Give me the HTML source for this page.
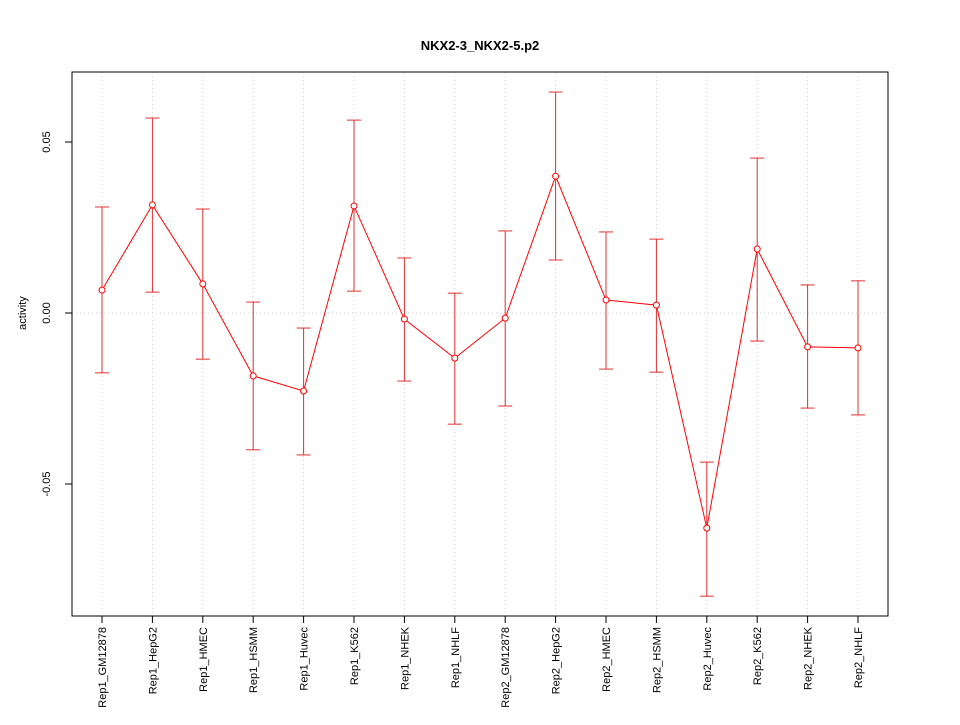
<!DOCTYPE html>
<html><head><meta charset="utf-8"><style>
body{margin:0;background:#fff;}
svg{font-family:"Liberation Sans",sans-serif;}
</style></head><body>
<svg id="c" width="960" height="720">
<rect width="960" height="720" fill="#fff"/>
<text x="480" y="50" text-anchor="middle" font-size="13" font-weight="bold">NKX2-3_NKX2-5.p2</text>
<text transform="translate(26,313) rotate(-90)" text-anchor="middle" font-size="11">activity</text>
<g id="grid"></g><g id="axes"></g><g id="marks"></g>
<rect x="72" y="72" width="816" height="544" fill="none" stroke="#000"/>
</svg>
<script>
const categories=["Rep1_GM12878","Rep1_HepG2","Rep1_HMEC","Rep1_HSMM","Rep1_Huvec","Rep1_K562","Rep1_NHEK","Rep1_NHLF","Rep2_GM12878","Rep2_HepG2","Rep2_HMEC","Rep2_HSMM","Rep2_Huvec","Rep2_K562","Rep2_NHEK","Rep2_NHLF"];
const values=[0.0067,0.0316,0.0085,-0.0184,-0.0228,0.0313,-0.0018,-0.0132,-0.0015,0.040,0.0038,0.0023,-0.0629,0.0187,-0.0099,-0.0102];
const upper=[0.031,0.057,0.0304,0.0032,-0.0044,0.0564,0.0161,0.0058,0.024,0.0646,0.0237,0.0216,-0.0436,0.0453,0.0082,0.0094];
const lower=[-0.0175,0.0061,-0.0135,-0.040,-0.0415,0.0064,-0.0199,-0.0325,-0.0272,0.0155,-0.0164,-0.0173,-0.0828,-0.0082,-0.0278,-0.0298];
const yTicks=[-0.05,0,0.05];
const yTickLabels=["-0.05","0.00","0.05"];
const NS="http://www.w3.org/2000/svg";
const xS=i=>102+i*(756/15);
const yS=v=>313-v*3420;
function mk(p,t,a){const e=document.createElementNS(NS,t);for(const k in a)e.setAttribute(k,a[k]);document.getElementById(p).appendChild(e);return e;}
categories.forEach((c,i)=>{
 let g=mk("grid","line",{x1:xS(i),x2:xS(i),y1:72,y2:616,stroke:"#d3d3d3","stroke-dasharray":"1,3"});
 
 
 let t=mk("axes","line",{x1:xS(i),x2:xS(i),y1:616,y2:623,stroke:"#000"});
 
 
 let l=mk("axes","text",{transform:`translate(${xS(i)+4},627) rotate(-90)`,"text-anchor":"end","font-size":"11"});
 l.textContent=c;
 
 
});
let z=mk("grid","line",{x1:72,x2:888,y1:yS(0),y2:yS(0),stroke:"#d3d3d3","stroke-dasharray":"1,3"});


yTicks.forEach((v,i)=>{
 let t=mk("axes","line",{x1:65,x2:72,y1:yS(v),y2:yS(v),stroke:"#000"});
 
 
 let l=mk("axes","text",{transform:`translate(50,${yS(v)}) rotate(-90)`,"text-anchor":"middle","font-size":"11"});
 l.textContent=yTickLabels[i];
 
 
});
values.forEach((v,i)=>{
 const x=xS(i);
 let e=mk("marks","line",{x1:x,x2:x,y1:yS(upper[i]),y2:yS(lower[i]),stroke:"#e03030"});
 
 
 [upper[i],lower[i]].forEach(b=>{let c=mk("marks","line",{x1:x-7,x2:x+7,y1:yS(b),y2:yS(b),stroke:"#e03030"});
 
 });
});
let pl=mk("marks","polyline",{points:values.map((v,i)=>xS(i)+","+yS(v)).join(" "),fill:"none",stroke:"#ff0000"});


values.forEach((v,i)=>{
 let p=mk("marks","circle",{cx:xS(i),cy:yS(v),r:3,fill:"#fff",stroke:"#ff0000"});
 
 
});
</script>
</body></html>
